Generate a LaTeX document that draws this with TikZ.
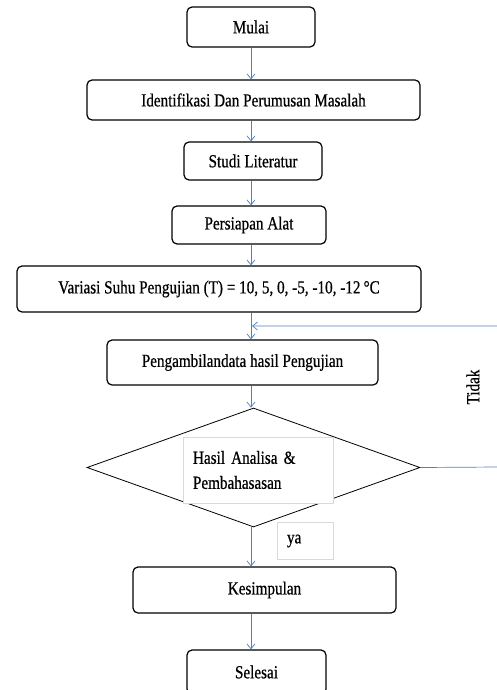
\documentclass[tikz,border=0pt]{standalone}
\usepackage{fontspec}
\setmainfont{Liberation Serif}[FakeStretch=0.82, FakeBold=0.6]
\usepackage{tikz}
\usetikzlibrary{shapes.geometric, arrows.meta}
\definecolor{arrowblue}{RGB}{79,129,189}
\tikzstyle{block} = [rectangle, draw, line width=1.2pt, rounded corners=5pt,
    inner sep=0pt, text centered]
\tikzstyle{decision} = [diamond, draw, line width=0.8pt, inner sep=0pt]
\tikzstyle{textbox} = [rectangle, draw=black!15, fill=white, inner sep=0pt, align=left]
\tikzstyle{line} = [draw, arrowblue, line width=0.7pt, -{Straight Barb[length=5pt,width=8pt]}]

\begin{document}
\begin{tikzpicture}[x=1pt, y=-1pt, font=\fontsize{18.5}{25}\selectfont]
    \useasboundingbox (0,0) rectangle (497,690);
    % Place nodes
    \node [block, minimum width=128pt, minimum height=40pt] (mulai) at (251,27) {Mulai};
    \node [block, minimum width=333pt, minimum height=40pt] (identifikasi) at (253.5,100) {Identifikasi Dan Perumusan Masalah};
    \node [block, minimum width=138pt, minimum height=38pt] (studi) at (253,161) {Studi Literatur};
    \node [block, minimum width=154pt, minimum height=38pt] (persiapan) at (249,225) {Persiapan Alat};
    \node [block, minimum width=404pt, minimum height=46pt] (variasi) at (219,289) {Variasi Suhu Pengujian (T) = 10, 5, 0, -5, -10, -12\,°C};
    \node [block, minimum width=271pt, minimum height=45pt] (pengambilan) at (242.5,362.5) {Pengambilandata hasil Pengujian};
    \node [decision, minimum width=333pt, minimum height=119pt] (analisa) at (253.5,467.5) {};
    \node [textbox, minimum width=150pt, minimum height=66pt, text width=130pt] (hasil) at (258,470) {Hasil Analisa \&\\Pembahasasan\\[-6pt]};
    \node [textbox, minimum width=56pt, minimum height=37pt, text width=36pt] (ya) at (305,541) {ya};
    \node [block, minimum width=263pt, minimum height=46pt] (kesimpulan) at (264.5,590) {Kesimpulan};
    \node [block, minimum width=139pt, minimum height=44pt] (selesai) at (256.5,672) {Selesai};
    \node [rotate=90] (tidak) at (473,387) {Tidak};
    \coordinate (kanan) at (499,467);
    \coordinate (gabung) at (252,326);
    % Draw edges
    \path [line] (mulai.south) -- (identifikasi.north -| mulai.south);
    \path [line] (identifikasi.south -| mulai.south) -- (studi.north -| mulai.south);
    \path [line] (studi.south -| mulai.south) -- (persiapan.north -| mulai.south);
    \path [line] (persiapan.south -| mulai.south) -- (variasi.north -| mulai.south);
    \path [line] (variasi.south -| mulai.south) -- (pengambilan.north -| mulai.south);
    \path [line] (pengambilan.south -| mulai.south) -- (analisa.north -| mulai.south);
    \path [line] (analisa.south -| mulai.south) -- (kesimpulan.north -| mulai.south);
    \path [line] (kesimpulan.south -| mulai.south) -- (selesai.north -| mulai.south);
    \path [line] (analisa.east) -- (kanan) |- (gabung);
\end{tikzpicture}
\end{document}
